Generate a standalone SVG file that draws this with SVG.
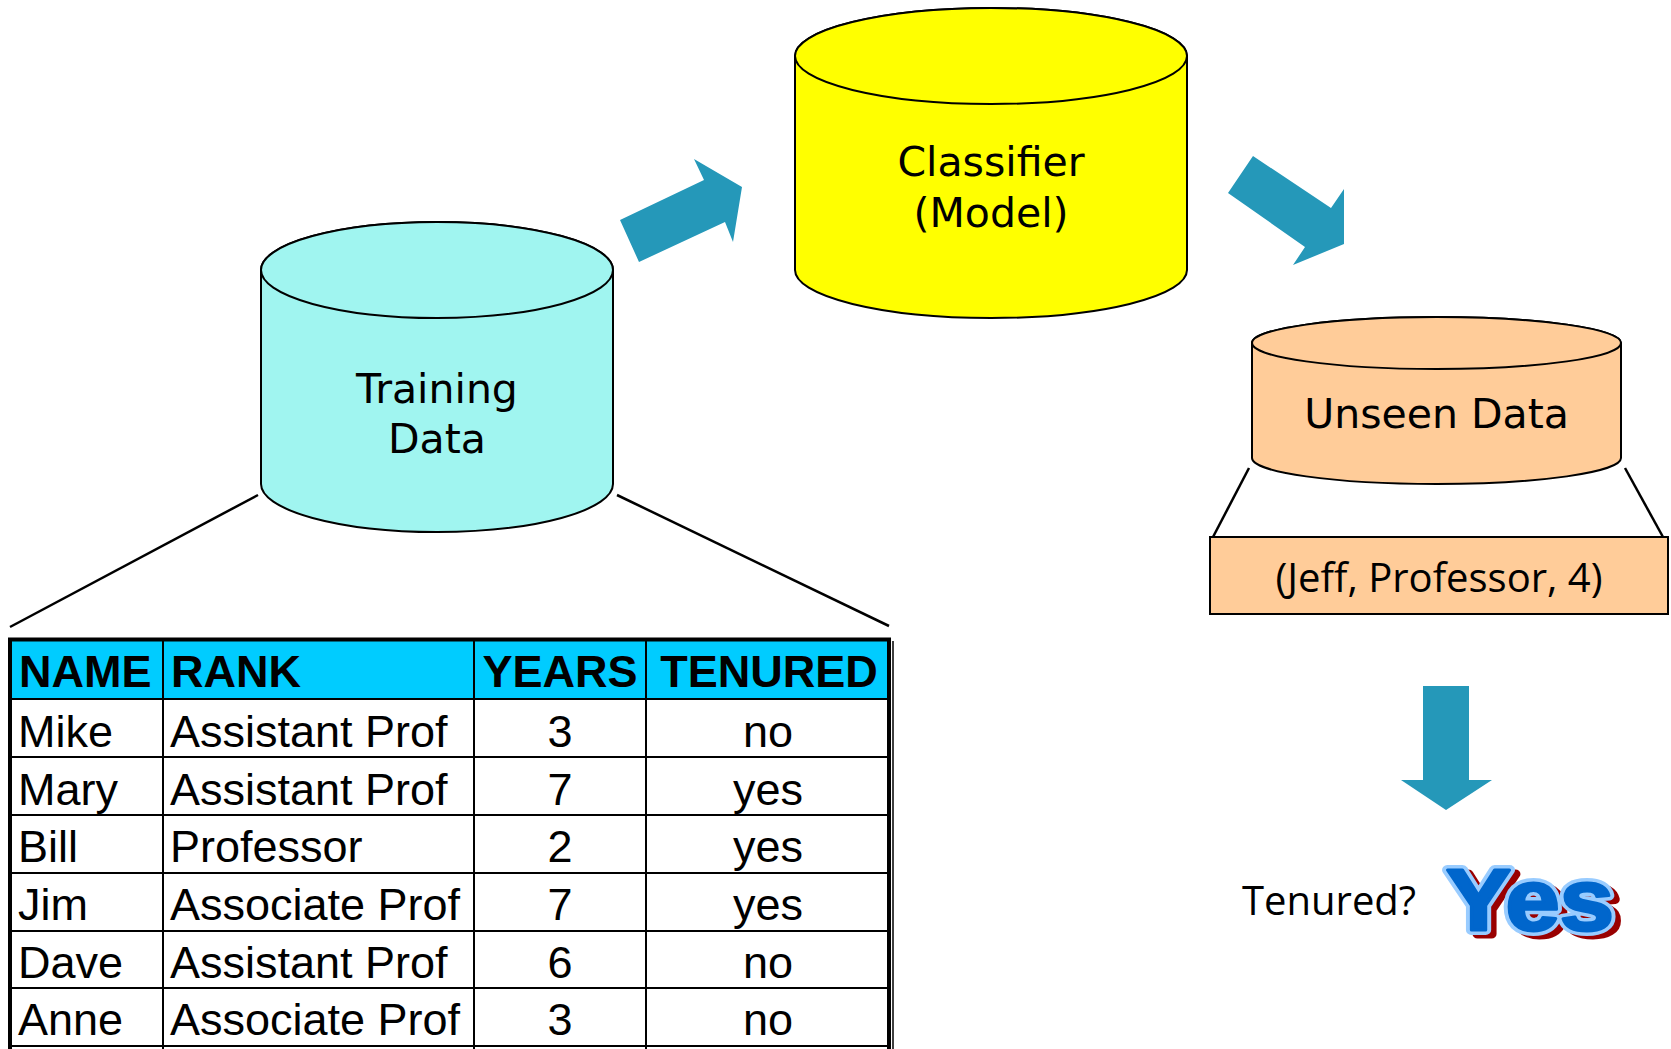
<svg xmlns="http://www.w3.org/2000/svg" width="1671" height="1049" viewBox="0 0 1671 1049">
  <style>
    .cyl { stroke: #000; stroke-width: 2; }
    .label { font-family: "DejaVu Sans", Verdana, sans-serif; font-size: 41px; fill: #000; text-anchor: middle; }
    .cal { font-family: "Open Sans", "Noto Sans", sans-serif; font-size: 40px; fill: #000; }
    .zoomline { stroke: #000; stroke-width: 2.5; fill: none; }
    .flow { fill: #2598b9; }
    .cell { font-family: "Liberation Sans", Arial, sans-serif; font-size: 45px; fill: #000; }
    .head { font-weight: bold; }
    .mid { text-anchor: middle; }
    .grid { stroke: #000; stroke-width: 2; }
    .yes { font-family: "Liberation Sans", Arial, sans-serif; font-weight: bold; font-size: 87px; }
  </style>
  <defs>
    <!-- word-art answer, drawn three times: shadow, light rim, face -->
    <text id="yesWord" class="yes" x="0" y="0" textLength="168" lengthAdjust="spacingAndGlyphs">Yes</text>
  </defs>

  <rect width="1671" height="1049" fill="#fff"/>

  <!-- flow arrows and zoom-out lines -->
  <g id="connectors">
    <polygon class="flow" points="620,220 704,180 694,159 742,187 733,242 725,222 639,262"/>
    <polygon class="flow" points="1253,156 1331,208 1344,189 1344,244 1293,265 1305,247 1228,193"/>
    <polygon class="flow" points="1423,686 1469,686 1469,780 1492,780 1446,810 1401,780 1423,780"/>
    <line class="zoomline" x1="258" y1="495" x2="10" y2="627"/>
    <line class="zoomline" x1="617" y1="495" x2="889" y2="626"/>
    <line class="zoomline" x1="1249" y1="468" x2="1213" y2="537"/>
    <line class="zoomline" x1="1625" y1="468" x2="1663" y2="537"/>
  </g>

  <!-- training data store -->
  <g id="training-data">
    <path class="cyl" fill="#a0f5f0" d="M261,270 L261,484 A176,48 0 0 0 613,484 L613,270 A176,48 0 0 0 261,270 Z"/>
    <ellipse class="cyl" fill="#a0f5f0" cx="437" cy="270" rx="176" ry="48"/>
    <text class="label" x="437" y="403">Training</text>
    <text class="label" x="437" y="453">Data</text>
  </g>

  <!-- classifier store -->
  <g id="classifier">
    <path class="cyl" fill="#ffff00" d="M795,56 L795,270 A196,48 0 0 0 1187,270 L1187,56 A196,48 0 0 0 795,56 Z"/>
    <ellipse class="cyl" fill="#ffff00" cx="991" cy="56" rx="196" ry="48"/>
    <text class="label" x="991" y="176">Classifier</text>
    <text class="label" x="991" y="227">(Model)</text>
  </g>

  <!-- unseen data store -->
  <g id="unseen-data">
    <path class="cyl" fill="#ffcc99" d="M1252,343 L1252,458 A184.5,26 0 0 0 1621,458 L1621,343 A184.5,26 0 0 0 1252,343 Z"/>
    <ellipse class="cyl" fill="#ffcc99" cx="1436.5" cy="343" rx="184.5" ry="26"/>
    <text class="label" x="1436.5" y="428">Unseen Data</text>
  </g>

  <!-- the new record -->
  <g id="new-record">
    <rect x="1210" y="537" width="458" height="77" fill="#ffcc99" stroke="#000" stroke-width="2"/>
    <text class="cal" x="1439" y="592" text-anchor="middle">(Jeff, Professor, 4)</text>
  </g>

  <!-- prediction -->
  <g id="prediction">
    <text class="cal" x="1242" y="915">Tenured?</text>
    <use href="#yesWord" x="1452" y="934" fill="#990000" stroke="#990000" stroke-width="9" stroke-linejoin="round"/>
    <use href="#yesWord" x="1446" y="930" fill="#99ccff" stroke="#99ccff" stroke-width="10" stroke-linejoin="round"/>
    <use href="#yesWord" x="1446" y="930" fill="#0066cc" stroke="#0066cc" stroke-width="3" stroke-linejoin="round"/>
  </g>

  <!-- training table -->
  <g id="training-table">
    <rect x="10" y="639.5" width="879" height="59.5" fill="#00ccff"/>
    <rect x="10" y="699" width="879" height="347" fill="#fff"/>
    <g class="grid">
      <line x1="10" y1="699" x2="889" y2="699"/>
      <line x1="10" y1="757" x2="889" y2="757"/>
      <line x1="10" y1="815" x2="889" y2="815"/>
      <line x1="10" y1="873" x2="889" y2="873"/>
      <line x1="10" y1="931" x2="889" y2="931"/>
      <line x1="10" y1="988" x2="889" y2="988"/>
      <line x1="10" y1="1046" x2="889" y2="1046"/>
      <line x1="163" y1="639.5" x2="163" y2="1049"/>
      <line x1="474" y1="639.5" x2="474" y2="1049"/>
      <line x1="646" y1="639.5" x2="646" y2="1049"/>
    </g>
    <path d="M10,1049 L10,639.5 L889,639.5 L889,1049" fill="none" stroke="#000" stroke-width="4"/>
    <line x1="893" y1="641" x2="893" y2="1049" stroke="#000" stroke-width="1.5"/>

    <text class="cell head" x="19" y="687">NAME</text>
    <text class="cell head" x="171" y="687">RANK</text>
    <text class="cell head mid" x="560" y="687">YEARS</text>
    <text class="cell head mid" x="769" y="687">TENURED</text>

    <text class="cell" x="18" y="747">Mike</text>
    <text class="cell" x="170" y="747">Assistant Prof</text>
    <text class="cell mid" x="560" y="747">3</text>
    <text class="cell mid" x="768" y="747">no</text>

    <text class="cell" x="18" y="805">Mary</text>
    <text class="cell" x="170" y="805">Assistant Prof</text>
    <text class="cell mid" x="560" y="805">7</text>
    <text class="cell mid" x="768" y="805">yes</text>

    <text class="cell" x="18" y="862">Bill</text>
    <text class="cell" x="170" y="862">Professor</text>
    <text class="cell mid" x="560" y="862">2</text>
    <text class="cell mid" x="768" y="862">yes</text>

    <text class="cell" x="18" y="920">Jim</text>
    <text class="cell" x="170" y="920">Associate Prof</text>
    <text class="cell mid" x="560" y="920">7</text>
    <text class="cell mid" x="768" y="920">yes</text>

    <text class="cell" x="18" y="978">Dave</text>
    <text class="cell" x="170" y="978">Assistant Prof</text>
    <text class="cell mid" x="560" y="978">6</text>
    <text class="cell mid" x="768" y="978">no</text>

    <text class="cell" x="18" y="1035">Anne</text>
    <text class="cell" x="170" y="1035">Associate Prof</text>
    <text class="cell mid" x="560" y="1035">3</text>
    <text class="cell mid" x="768" y="1035">no</text>
  </g>
</svg>
